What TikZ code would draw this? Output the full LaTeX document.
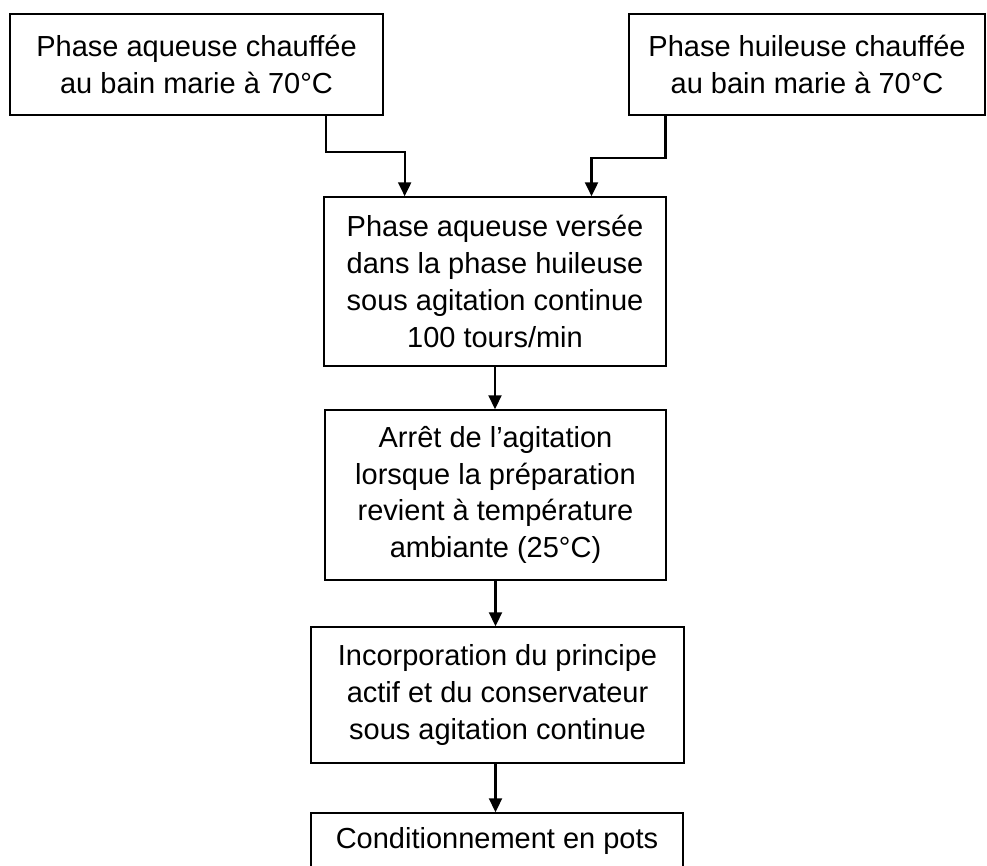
\documentclass[tikz,border=0pt]{standalone}
\usepackage{fontspec}
\setmainfont{Liberation Sans}
\usetikzlibrary{arrows.meta,calc}

\begin{document}
\begin{tikzpicture}[x=1pt, y=-1pt, thick,
        etape/.style = {draw, line width=1.5pt, align=center, inner sep=0pt,
                        font=\fontsize{29}{36.7}\selectfont},
        fleche/.style = {line width=2.2pt, -{Triangle[length=14pt, width=13pt]}}]
        \useasboundingbox (0,0) rectangle (987,865);

        % Nodes
        \node[etape, minimum width=373pt, minimum height=101pt] (aqueuse)  at (196.5,64.5) {Phase aqueuse chauffée\\au bain marie à 70°C};
        \node[etape, minimum width=356pt, minimum height=101pt] (huileuse) at (807,64.5)   {Phase huileuse chauffée\\au bain marie à 70°C};
        \node[etape, minimum width=342pt, minimum height=169pt] (melange)  at (495,281.5)  {Phase aqueuse versée\\dans la phase huileuse\\sous agitation continue\\100 tours/min};
        \node[etape, minimum width=341pt, minimum height=170pt] (arret)    at (495.5,495)  {Arrêt de l’agitation\\lorsque la préparation\\revient à température\\ambiante (25°C)};
        \node[etape, minimum width=373pt, minimum height=136pt] (incorpo)  at (497.5,695)  {Incorporation du principe\\actif et du conservateur\\sous agitation continue};
        \node[etape, minimum width=372pt, minimum height=56pt]  (pots)     at (497,841)    {Conditionnement en pots};

        % Connections
        \draw[fleche] ($(aqueuse.south west)!0.845!(aqueuse.south east)$) -- ++(0,36)
                      -| ($(melange.north west)!0.237!(melange.north east)$);
        \draw[fleche] ($(huileuse.south west)!0.104!(huileuse.south east)$) -- ++(0,42)
                      -| ($(melange.north west)!0.781!(melange.north east)$);
        \draw[fleche] (melange.south) -- (melange.south |- arret.north);
        \draw[fleche] (arret.south) -- (arret.south |- incorpo.north);
        \draw[fleche] (incorpo.south -| arret.south) -- (arret.south |- pots.north);
      \end{tikzpicture}
\end{document}
